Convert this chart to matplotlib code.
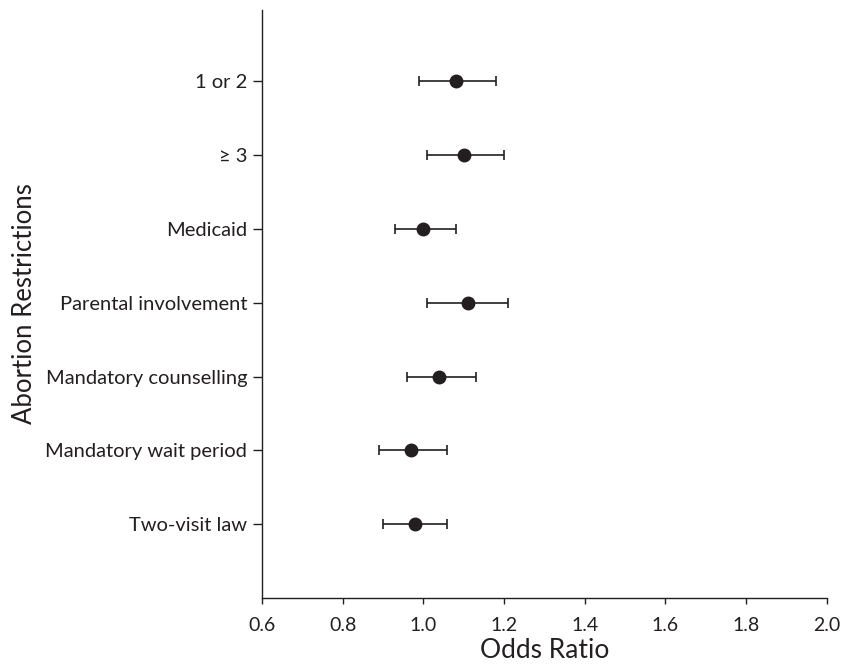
import matplotlib.pyplot as plt

plt.rcParams['font.family'] = ['Lato', 'DejaVu Sans']

# restriction categories, top to bottom
labels = ['1 or 2', '\u2265 3', 'Medicaid', 'Parental involvement',
          'Mandatory counselling', 'Mandatory wait period', 'Two-visit law']
odds = [1.08, 1.10, 1.00, 1.11, 1.04, 0.97, 0.98]
ci_low = [0.99, 1.01, 0.93, 1.01, 0.96, 0.89, 0.90]
ci_high = [1.18, 1.20, 1.08, 1.21, 1.13, 1.06, 1.06]

color = '#231f20'
ypos = list(range(len(labels), 0, -1))
err_lo = [o - l for o, l in zip(odds, ci_low)]
err_hi = [h - o for o, h in zip(odds, ci_high)]

fig = plt.figure(figsize=(8.42, 6.64), dpi=100)
ax = fig.add_axes([0.311, 0.0994, 0.671, 0.886])

ax.errorbar(odds, ypos, xerr=[err_lo, err_hi], fmt='o', color=color,
            ecolor=color, markersize=9, elinewidth=1.2, capsize=3.6,
            capthick=1.2)

ax.set_xlim(0.6, 2.0)
ax.set_ylim(0.0, len(labels) + 0.97)
ax.set_xticks([0.6, 0.8, 1.0, 1.2, 1.4, 1.6, 1.8, 2.0])
ax.set_xticklabels(['0.6', '0.8', '1.0', '1.2', '1.4', '1.6', '1.8', '2.0'])
ax.set_yticks(ypos)
ax.set_yticklabels(labels)

ax.spines['top'].set_visible(False)
ax.spines['right'].set_visible(False)
for s in ['left', 'bottom']:
    ax.spines[s].set_color(color)
    ax.spines[s].set_linewidth(1.0)
ax.tick_params(axis='both', colors=color, width=1.0)
ax.tick_params(axis='x', labelsize=14, length=4.5, pad=9)
ax.tick_params(axis='y', labelsize=14.5, length=6.5, pad=4)

ax.set_xlabel('Odds Ratio', fontsize=19, color=color, labelpad=3)
ax.set_ylabel('Abortion Restrictions', fontsize=18.5, color=color, labelpad=6)

fig.savefig('out.png', dpi=100)
